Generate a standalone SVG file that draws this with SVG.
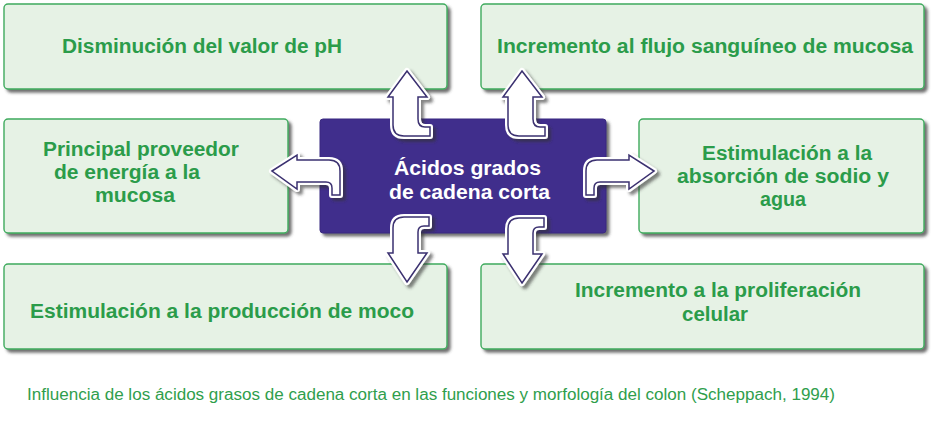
<svg xmlns="http://www.w3.org/2000/svg" xmlns:xlink="http://www.w3.org/1999/xlink" width="935" height="422" viewBox="0 0 935 422">
  <defs>
    <filter id="shadow" x="-5%" y="-10%" width="115%" height="130%">
      <feDropShadow dx="3" dy="3" stdDeviation="1.6" flood-color="#404040" flood-opacity="0.75"/>
    </filter>
    <filter id="ashadow" x="-30%" y="-30%" width="160%" height="160%">
      <feDropShadow dx="3" dy="3" stdDeviation="1.5" flood-color="#303030" flood-opacity="0.6"/>
    </filter>
    <path id="aUp" d="M0,0 L20,26 L11,26 L11,48 Q11,56 18,56 L23,56 L23,65 L-3,65 Q-14,65 -14,54 L-14,26 L-19,26 Z"/>
    <path id="aDown" d="M0,0 L20,-29 L11,-29 L11,-50 Q11,-56 17,-56 L22,-56 L22,-65 L-3,-65 Q-14,-65 -14,-54 L-14,-29 L-19,-29 Z"/>
    <path id="aLeft" d="M0,0 L25,-16 L25,-11 L57,-11 Q68,-11 68,0 L68,24 L60,24 L60,17 Q60,11 54,11 L25,11 L25,18 Z"/>
  </defs>
  <style>
    .box { fill: #e6f2e5; stroke: #3fab5e; stroke-width: 1.4; filter: url(#shadow); }
    .center { fill: #3f2d8c; stroke: #3a2a80; stroke-width: 1; filter: url(#shadow); }
    .lbl { font-family: "Liberation Sans", Arial, sans-serif; font-weight: bold; font-size: 20px; fill: #2b9c4a; }
    .clbl { font-family: "Liberation Sans", Arial, sans-serif; font-weight: bold; font-size: 20px; fill: #ffffff; }
    .cap { font-family: "Liberation Sans", Arial, sans-serif; font-size: 16px; fill: #2f9e4c; }
    .halo { fill: #ffffff; stroke: #ffffff; stroke-width: 6; stroke-linejoin: round; }
    .arr { fill: #ffffff; stroke: #3b3070; stroke-width: 1.5; stroke-linejoin: miter; }
  </style>

  <g id="node-ph">
    <rect class="box" x="4" y="4" width="443" height="85" rx="4"/>
    <text class="lbl" x="62" y="53" textLength="280" lengthAdjust="spacingAndGlyphs">Disminución del valor de pH</text>
  </g>
  <g id="node-flujo">
    <rect class="box" x="481" y="4" width="443" height="85" rx="4"/>
    <text class="lbl" x="497" y="53" textLength="416" lengthAdjust="spacingAndGlyphs">Incremento al flujo sanguíneo de mucosa</text>
  </g>
  <g id="node-energia">
    <rect class="box" x="4" y="119" width="284" height="114" rx="4"/>
    <text class="lbl" x="43" y="156" textLength="196" lengthAdjust="spacingAndGlyphs">Principal proveedor</text>
    <text class="lbl" x="54" y="179" textLength="146" lengthAdjust="spacingAndGlyphs">de energía a la</text>
    <text class="lbl" x="95" y="202" textLength="80" lengthAdjust="spacingAndGlyphs">mucosa</text>
  </g>
  <g id="node-sodio">
    <rect class="box" x="639" y="119" width="285" height="114" rx="4"/>
    <text class="lbl" x="702" y="160" textLength="170" lengthAdjust="spacingAndGlyphs">Estimulación a la</text>
    <text class="lbl" x="677" y="183" textLength="212" lengthAdjust="spacingAndGlyphs">absorción de sodio y</text>
    <text class="lbl" x="760" y="206" textLength="46" lengthAdjust="spacingAndGlyphs">agua</text>
  </g>
  <g id="node-moco">
    <rect class="box" x="4" y="264" width="443" height="85" rx="4"/>
    <text class="lbl" x="30" y="318" textLength="384" lengthAdjust="spacingAndGlyphs">Estimulación a la producción de moco</text>
  </g>
  <g id="node-proliferacion">
    <rect class="box" x="481" y="264" width="443" height="85" rx="4"/>
    <text class="lbl" x="575" y="297" textLength="286" lengthAdjust="spacingAndGlyphs">Incremento a la proliferación</text>
    <text class="lbl" x="682" y="321" textLength="66" lengthAdjust="spacingAndGlyphs">celular</text>
  </g>
  <g id="node-center">
    <rect class="center" x="320" y="119" width="286" height="114" rx="3"/>
    <text class="clbl" x="394" y="175" textLength="147" lengthAdjust="spacingAndGlyphs">Ácidos grados</text>
    <text class="clbl" x="389" y="199" textLength="161" lengthAdjust="spacingAndGlyphs">de cadena corta</text>
  </g>

  <g id="connectors">
    <g filter="url(#ashadow)">
      <use xlink:href="#aUp" class="halo" transform="translate(407,71)"/>
      <use xlink:href="#aUp" class="arr" transform="translate(407,71)"/>
    </g>
    <g filter="url(#ashadow)">
      <use xlink:href="#aUp" class="halo" transform="translate(522,71)"/>
      <use xlink:href="#aUp" class="arr" transform="translate(522,71)"/>
    </g>
    <g filter="url(#ashadow)">
      <use xlink:href="#aLeft" class="halo" transform="translate(272,171)"/>
      <use xlink:href="#aLeft" class="arr" transform="translate(272,171)"/>
    </g>
    <g filter="url(#ashadow)">
      <use xlink:href="#aLeft" class="halo" transform="translate(654,171) scale(-1,1)"/>
      <use xlink:href="#aLeft" class="arr" transform="translate(654,171) scale(-1,1)"/>
    </g>
    <g filter="url(#ashadow)">
      <use xlink:href="#aDown" class="halo" transform="translate(407,282)"/>
      <use xlink:href="#aDown" class="arr" transform="translate(407,282)"/>
    </g>
    <g filter="url(#ashadow)">
      <use xlink:href="#aDown" class="halo" transform="translate(522,283)"/>
      <use xlink:href="#aDown" class="arr" transform="translate(522,283)"/>
    </g>
  </g>

  <text class="cap" x="27" y="400" textLength="808" lengthAdjust="spacingAndGlyphs">Influencia de los ácidos grasos de cadena corta en las funciones y morfología del colon (Scheppach, 1994)</text>
</svg>
